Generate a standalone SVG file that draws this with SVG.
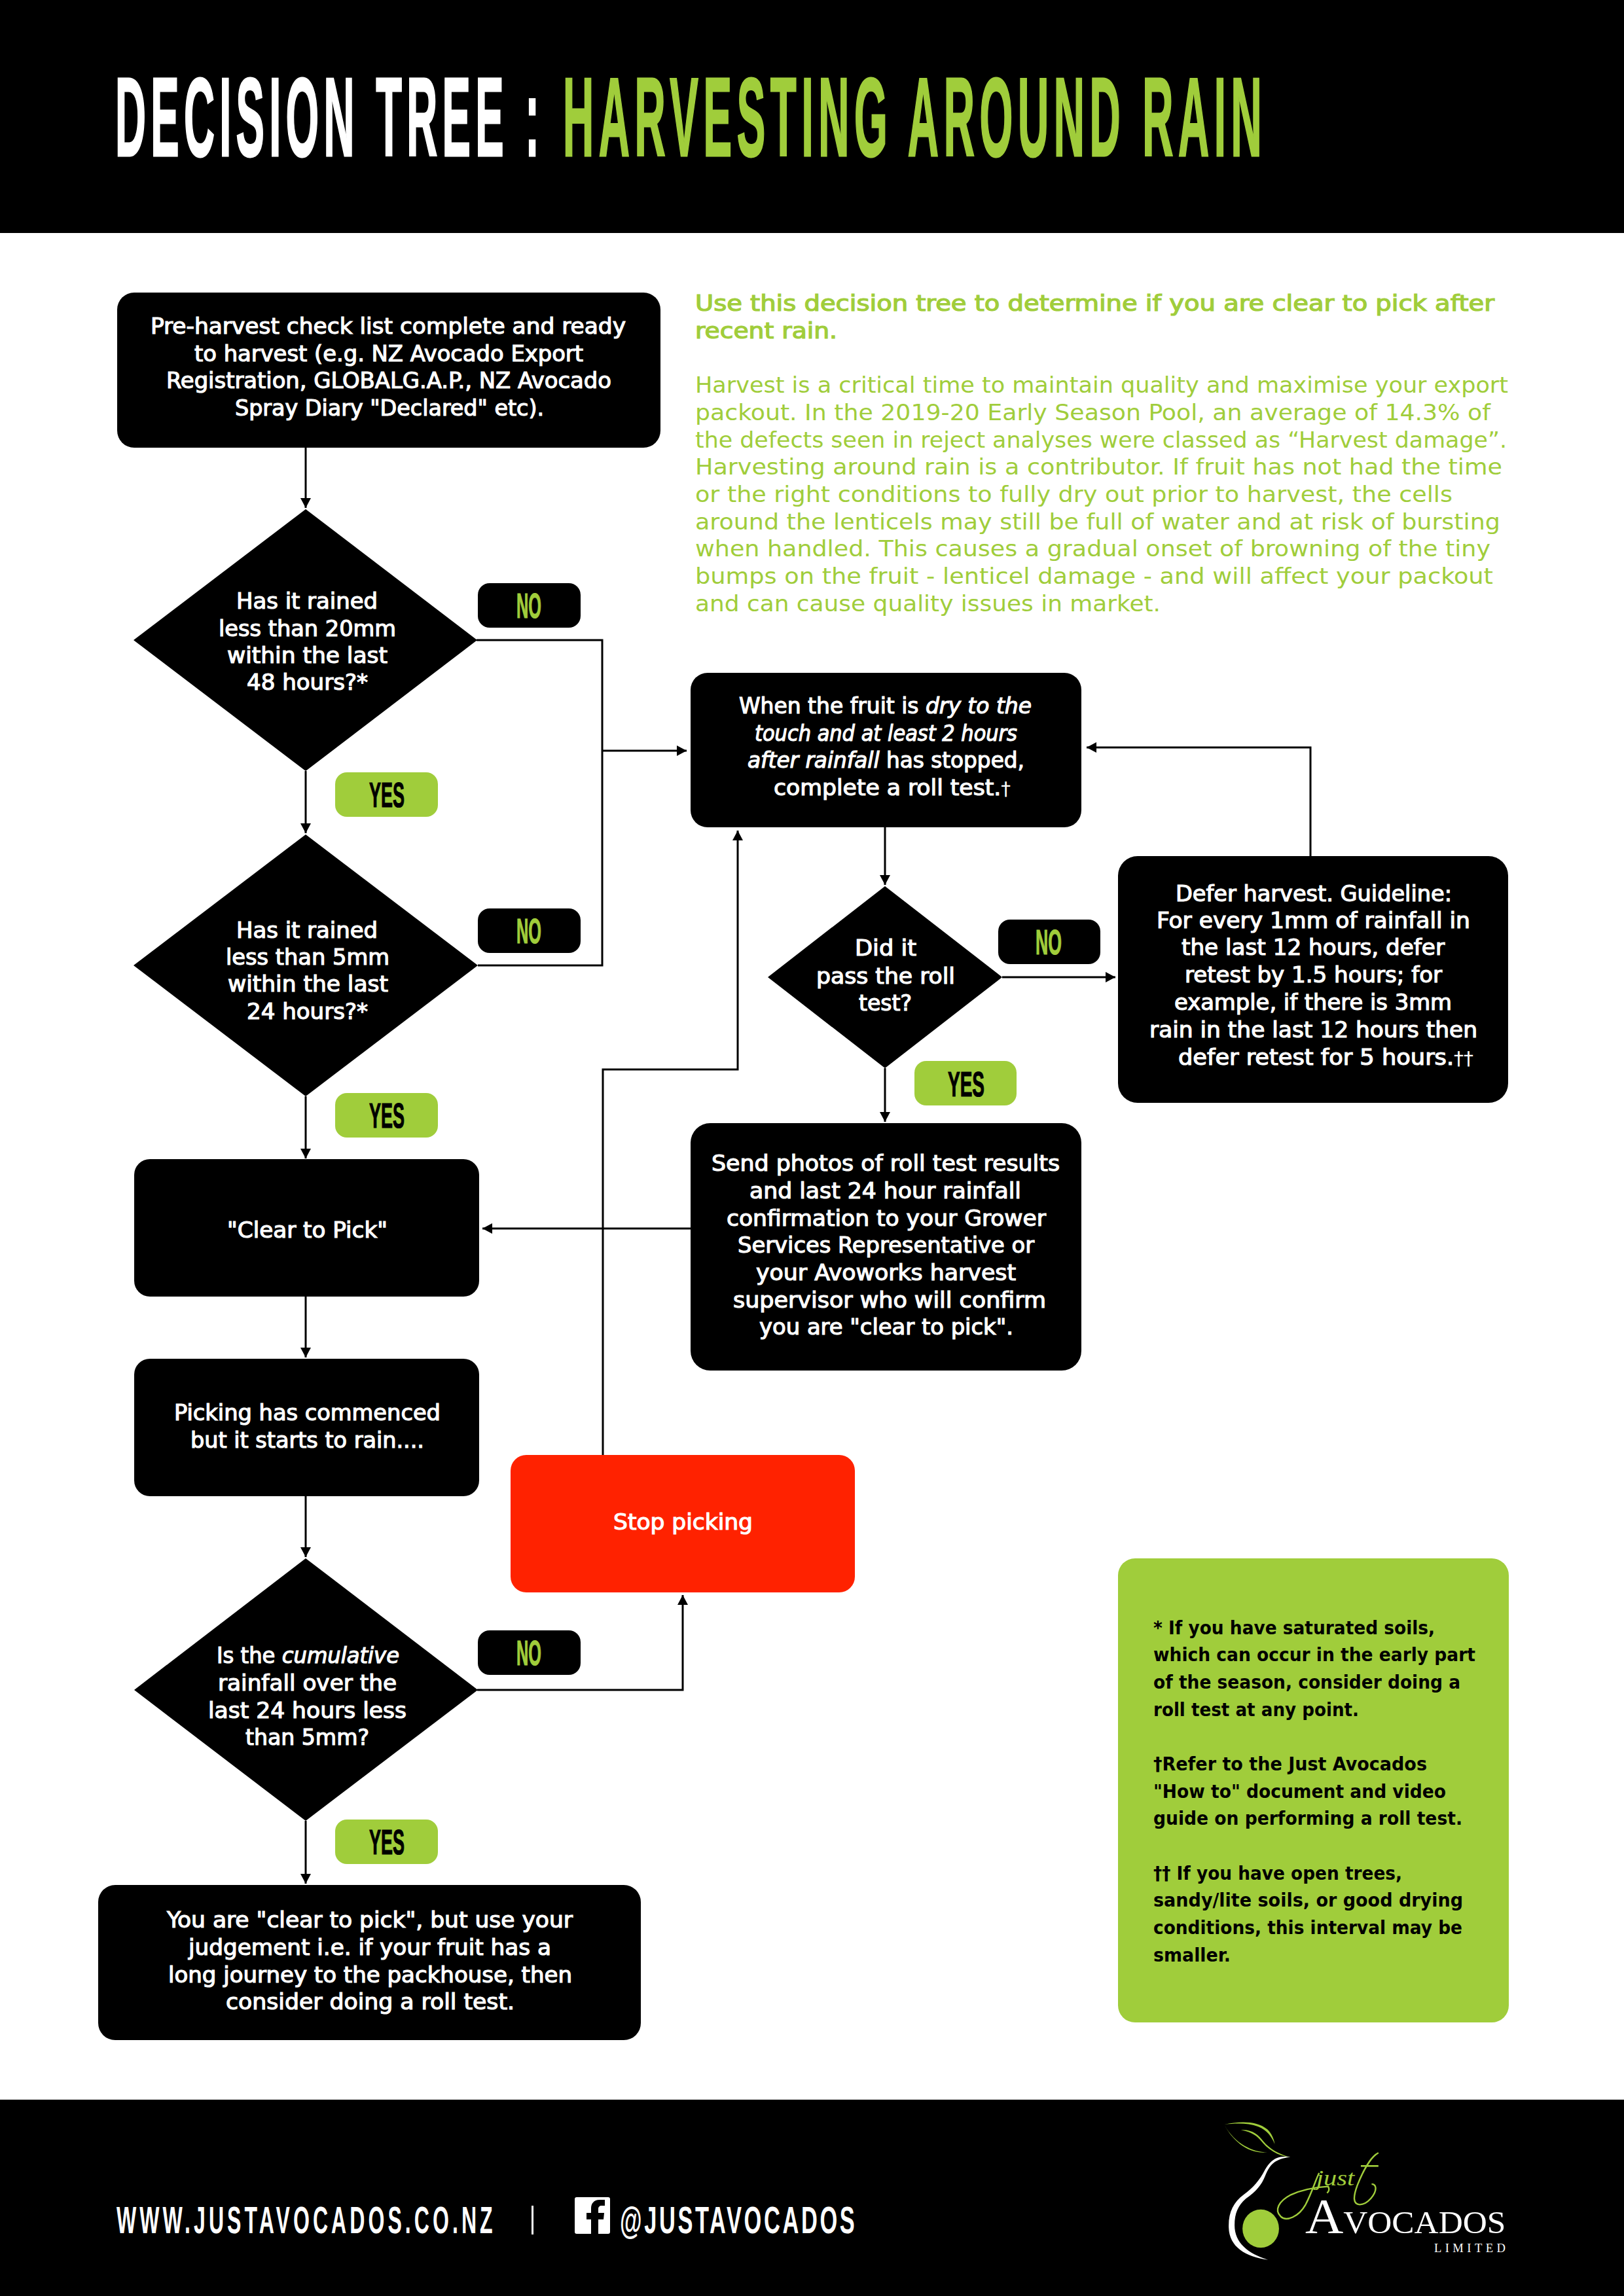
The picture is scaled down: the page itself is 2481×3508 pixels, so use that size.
<svg xmlns="http://www.w3.org/2000/svg" width="2481" height="3508" viewBox="0 0 2481 3508">
<defs>
<marker id="ah" markerUnits="userSpaceOnUse" markerWidth="18" markerHeight="18" refX="15" refY="8" orient="auto"><path d="M0,0 L15,8 L0,16 Z" fill="#000"/></marker>
<style>
.bx{fill:#000}
.gr{fill:#a0cd3b}
.c{fill:none;stroke:#000;stroke-width:3;marker-end:url(#ah)}
.l{fill:none;stroke:#000;stroke-width:3}
.t{font-family:"DejaVu Sans Condensed","DejaVu Sans",sans-serif;font-weight:400;font-size:33px;fill:#fff;stroke:#fff;stroke-width:1.1px}
.i{font-style:italic}
.d{font-size:28px;font-weight:400;stroke:none}
.h{font-family:"DejaVu Sans Condensed","DejaVu Sans",sans-serif;font-weight:400;font-size:34px;fill:#a0cd3b;stroke:#a0cd3b;stroke-width:1.2px}
.p{font-family:"DejaVu Sans Condensed","DejaVu Sans",sans-serif;font-weight:400;font-size:34px;fill:#a0cd3b}
.n{font-family:"DejaVu Sans Condensed","DejaVu Sans",sans-serif;font-weight:700;font-size:29px;fill:#000}
.k{font-family:"Liberation Sans Narrow","Liberation Sans",sans-serif;font-weight:700}
.pw{font-size:53px;fill:#000;stroke:#000;stroke-width:1.2px}
.pg{font-size:53px;fill:#a0cd3b;stroke:#a0cd3b;stroke-width:1.2px}
</style>
</defs>
<rect width="2481" height="3508" fill="#fff"/>
<g id="header">
<rect width="2481" height="356" fill="#000"/>
<text class="k" transform="translate(176,238) scale(.38,1)" x="0" y="0" font-size="170" fill="#fff" stroke="#fff" stroke-width="3" letter-spacing="19" textLength="1724" lengthAdjust="spacingAndGlyphs">DECISION TREE :</text>
<text class="k" transform="translate(860,238) scale(.38,1)" x="0" y="0" font-size="170" fill="#a0cd3b" stroke="#a0cd3b" stroke-width="3" letter-spacing="20" textLength="2830" lengthAdjust="spacingAndGlyphs">HARVESTING AROUND RAIN</text>
</g>
<g id="connectors">
<path class="c" d="M467,684 V776"/>
<path class="c" d="M467,1178 V1273"/>
<path class="c" d="M467,1675 V1770"/>
<path class="c" d="M467,1981 V2074"/>
<path class="c" d="M467,2286 V2379"/>
<path class="c" d="M467,2782 V2878"/>
<path class="l" d="M728,978 H920 V1475 H730"/>
<path class="c" d="M920,1147 H1049"/>
<path class="c" d="M729,2582 H1043 V2437"/>
<path class="c" d="M921,2223 V1634 H1127 V1269"/>
<path class="c" d="M1352,1264 V1352"/>
<path class="c" d="M1352,1632 V1714"/>
<path class="c" d="M1531,1493 H1704"/>
<path class="c" d="M2002,1308 V1142 H1660"/>
<path class="c" d="M1055,1877 H737"/>
</g>
<g id="intro">
<text class="h" x="1062" y="475" textLength="1221" lengthAdjust="spacingAndGlyphs">Use this decision tree to determine if you are clear to pick after</text>
<text class="h" x="1062" y="517" textLength="217" lengthAdjust="spacingAndGlyphs">recent rain.</text>
<text class="p" x="1062" y="600" textLength="1242" lengthAdjust="spacingAndGlyphs">Harvest is a critical time to maintain quality and maximise your export</text>
<text class="p" x="1062" y="642" textLength="1215" lengthAdjust="spacingAndGlyphs">packout. In the 2019-20 Early Season Pool, an average of 14.3% of</text>
<text class="p" x="1062" y="684" textLength="1240" lengthAdjust="spacingAndGlyphs">the defects seen in reject analyses were classed as “Harvest damage”.</text>
<text class="p" x="1062" y="725" textLength="1233" lengthAdjust="spacingAndGlyphs">Harvesting around rain is a contributor. If fruit has not had the time</text>
<text class="p" x="1062" y="767" textLength="1157" lengthAdjust="spacingAndGlyphs">or the right conditions to fully dry out prior to harvest, the cells</text>
<text class="p" x="1062" y="809" textLength="1230" lengthAdjust="spacingAndGlyphs">around the lenticels may still be full of water and at risk of bursting</text>
<text class="p" x="1062" y="850" textLength="1215" lengthAdjust="spacingAndGlyphs">when handled. This causes a gradual onset of browning of the tiny</text>
<text class="p" x="1062" y="892" textLength="1219" lengthAdjust="spacingAndGlyphs">bumps on the fruit - lenticel damage - and will affect your packout</text>
<text class="p" x="1062" y="934" textLength="711" lengthAdjust="spacingAndGlyphs">and can cause quality issues in market.</text>
</g>
<g id="n-preharvest">
<rect class="bx" x="179" y="447" width="830" height="237" rx="26"/>
<text class="t" x="230" y="510" textLength="726" lengthAdjust="spacingAndGlyphs">Pre-harvest check list complete and ready</text>
<text class="t" x="297" y="552" textLength="594" lengthAdjust="spacingAndGlyphs">to harvest (e.g. NZ Avocado Export</text>
<text class="t" x="254" y="593" textLength="680" lengthAdjust="spacingAndGlyphs">Registration, GLOBALG.A.P., NZ Avocado</text>
<text class="t" x="359" y="635" textLength="472" lengthAdjust="spacingAndGlyphs">Spray Diary "Declared" etc).</text>
</g>
<g id="n-rain20">
<polygon class="bx" points="467,778 729,978 467,1178 204,978"/>
<text class="t" x="361" y="930" textLength="216" lengthAdjust="spacingAndGlyphs">Has it rained</text>
<text class="t" x="334" y="972" textLength="271" lengthAdjust="spacingAndGlyphs">less than 20mm</text>
<text class="t" x="347" y="1013" textLength="245" lengthAdjust="spacingAndGlyphs">within the last</text>
<text class="t" x="377" y="1054" textLength="185" lengthAdjust="spacingAndGlyphs">48 hours?*</text>
</g>
<g id="n-no1"><rect class="bx" x="730" y="891" width="157" height="68" rx="18"/><text class="k pg" x="789" y="944" textLength="38" lengthAdjust="spacingAndGlyphs">NO</text></g>
<g id="n-yes1"><rect class="gr" x="512" y="1180" width="157" height="68" rx="18"/><text class="k pw" x="564" y="1233" textLength="54" lengthAdjust="spacingAndGlyphs">YES</text></g>
<g id="n-rain5">
<polygon class="bx" points="467,1275 730,1475 467,1675 204,1475"/>
<text class="t" x="361" y="1433" textLength="216" lengthAdjust="spacingAndGlyphs">Has it rained</text>
<text class="t" x="345" y="1474" textLength="250" lengthAdjust="spacingAndGlyphs">less than 5mm</text>
<text class="t" x="348" y="1515" textLength="245" lengthAdjust="spacingAndGlyphs">within the last</text>
<text class="t" x="377" y="1557" textLength="185" lengthAdjust="spacingAndGlyphs">24 hours?*</text>
</g>
<g id="n-no2"><rect class="bx" x="730" y="1388" width="157" height="68" rx="18"/><text class="k pg" x="789" y="1441" textLength="38" lengthAdjust="spacingAndGlyphs">NO</text></g>
<g id="n-yes2"><rect class="gr" x="512" y="1670" width="157" height="68" rx="18"/><text class="k pw" x="564" y="1723" textLength="54" lengthAdjust="spacingAndGlyphs">YES</text></g>
<g id="n-clear">
<rect class="bx" x="205" y="1771" width="527" height="210" rx="24"/>
<text class="t" x="347" y="1891" textLength="245" lengthAdjust="spacingAndGlyphs">"Clear to Pick"</text>
</g>
<g id="n-picking">
<rect class="bx" x="205" y="2076" width="527" height="210" rx="24"/>
<text class="t" x="266" y="2170" textLength="407" lengthAdjust="spacingAndGlyphs">Picking has commenced</text>
<text class="t" x="291" y="2212" textLength="357" lengthAdjust="spacingAndGlyphs">but it starts to rain....</text>
</g>
<g id="n-stop">
<rect x="780" y="2223" width="526" height="210" rx="24" fill="#ff2200"/>
<text class="t" x="937" y="2337" textLength="213" lengthAdjust="spacingAndGlyphs">Stop picking</text>
</g>
<g id="n-cumulative">
<polygon class="bx" points="467,2381 730,2582 467,2782 205,2582"/>
<text class="t" x="331" y="2541" textLength="279" lengthAdjust="spacingAndGlyphs">Is the <tspan class="i">cumulative</tspan></text>
<text class="t" x="333" y="2583" textLength="273" lengthAdjust="spacingAndGlyphs">rainfall over the</text>
<text class="t" x="318" y="2625" textLength="303" lengthAdjust="spacingAndGlyphs">last 24 hours less</text>
<text class="t" x="375" y="2666" textLength="189" lengthAdjust="spacingAndGlyphs">than 5mm?</text>
</g>
<g id="n-no3"><rect class="bx" x="730" y="2491" width="157" height="68" rx="18"/><text class="k pg" x="789" y="2544" textLength="38" lengthAdjust="spacingAndGlyphs">NO</text></g>
<g id="n-yes3"><rect class="gr" x="512" y="2780" width="157" height="68" rx="18"/><text class="k pw" x="564" y="2833" textLength="54" lengthAdjust="spacingAndGlyphs">YES</text></g>
<g id="n-final">
<rect class="bx" x="150" y="2880" width="829" height="237" rx="26"/>
<text class="t" x="255" y="2945" textLength="620" lengthAdjust="spacingAndGlyphs">You are "clear to pick", but use your</text>
<text class="t" x="288" y="2987" textLength="554" lengthAdjust="spacingAndGlyphs">judgement i.e. if your fruit has a</text>
<text class="t" x="257" y="3029" textLength="617" lengthAdjust="spacingAndGlyphs">long journey to the packhouse, then</text>
<text class="t" x="345" y="3070" textLength="441" lengthAdjust="spacingAndGlyphs">consider doing a roll test.</text>
</g>
<g id="n-when">
<rect class="bx" x="1055" y="1028" width="597" height="236" rx="26"/>
<text class="t" x="1129" y="1090" textLength="447" lengthAdjust="spacingAndGlyphs">When the fruit is <tspan class="i">dry to the</tspan></text>
<text class="t i" x="1153" y="1132" textLength="401" lengthAdjust="spacingAndGlyphs">touch and at least 2 hours</text>
<text class="t" x="1142" y="1173" textLength="423" lengthAdjust="spacingAndGlyphs"><tspan class="i">after rainfall</tspan> has stopped,</text>
<text class="t" x="1182" y="1215" textLength="362" lengthAdjust="spacingAndGlyphs">complete a roll test.<tspan class="d">†</tspan></text>
</g>
<g id="n-pass">
<polygon class="bx" points="1352,1354 1531,1493 1352,1632 1173,1493"/>
<text class="t" x="1306" y="1460" textLength="94" lengthAdjust="spacingAndGlyphs">Did it</text>
<text class="t" x="1247" y="1503" textLength="212" lengthAdjust="spacingAndGlyphs">pass the roll</text>
<text class="t" x="1312" y="1544" textLength="81" lengthAdjust="spacingAndGlyphs">test?</text>
</g>
<g id="n-no4"><rect class="bx" x="1525" y="1405" width="156" height="68" rx="18"/><text class="k pg" x="1582" y="1458" textLength="40" lengthAdjust="spacingAndGlyphs">NO</text></g>
<g id="n-yes4"><rect class="gr" x="1397" y="1621" width="156" height="68" rx="18"/><text class="k pw" x="1448" y="1675" textLength="56" lengthAdjust="spacingAndGlyphs">YES</text></g>
<g id="n-defer">
<rect class="bx" x="1708" y="1308" width="596" height="377" rx="30"/>
<text class="t" x="1796" y="1377" textLength="422" lengthAdjust="spacingAndGlyphs">Defer harvest. Guideline:</text>
<text class="t" x="1767" y="1418" textLength="479" lengthAdjust="spacingAndGlyphs">For every 1mm of rainfall in</text>
<text class="t" x="1805" y="1459" textLength="402" lengthAdjust="spacingAndGlyphs">the last 12 hours, defer</text>
<text class="t" x="1810" y="1501" textLength="393" lengthAdjust="spacingAndGlyphs">retest by 1.5 hours; for</text>
<text class="t" x="1794" y="1543" textLength="424" lengthAdjust="spacingAndGlyphs">example, if there is 3mm</text>
<text class="t" x="1756" y="1585" textLength="501" lengthAdjust="spacingAndGlyphs">rain in the last 12 hours then</text>
<text class="t" x="1800" y="1627" textLength="451" lengthAdjust="spacingAndGlyphs">defer retest for 5 hours.<tspan class="d">††</tspan></text>
</g>
<g id="n-send">
<rect class="bx" x="1055" y="1716" width="597" height="378" rx="30"/>
<text class="t" x="1087" y="1789" textLength="532" lengthAdjust="spacingAndGlyphs">Send photos of roll test results</text>
<text class="t" x="1145" y="1831" textLength="415" lengthAdjust="spacingAndGlyphs">and last 24 hour rainfall</text>
<text class="t" x="1110" y="1873" textLength="488" lengthAdjust="spacingAndGlyphs">confirmation to your Grower</text>
<text class="t" x="1127" y="1914" textLength="453" lengthAdjust="spacingAndGlyphs">Services Representative or</text>
<text class="t" x="1155" y="1956" textLength="397" lengthAdjust="spacingAndGlyphs">your Avoworks harvest</text>
<text class="t" x="1120" y="1998" textLength="478" lengthAdjust="spacingAndGlyphs">supervisor who will confirm</text>
<text class="t" x="1160" y="2039" textLength="388" lengthAdjust="spacingAndGlyphs">you are "clear to pick".</text>
</g>
<g id="n-notes">
<rect class="gr" x="1708" y="2381" width="597" height="709" rx="26"/>
<text class="n" x="1762" y="2497" textLength="430" lengthAdjust="spacingAndGlyphs">* If you have saturated soils,</text>
<text class="n" x="1762" y="2538" textLength="492" lengthAdjust="spacingAndGlyphs">which can occur in the early part</text>
<text class="n" x="1762" y="2580" textLength="469" lengthAdjust="spacingAndGlyphs">of the season, consider doing a</text>
<text class="n" x="1762" y="2622" textLength="314" lengthAdjust="spacingAndGlyphs">roll test at any point.</text>
<text class="n" x="1762" y="2705" textLength="418" lengthAdjust="spacingAndGlyphs">†Refer to the Just Avocados</text>
<text class="n" x="1762" y="2747" textLength="447" lengthAdjust="spacingAndGlyphs">"How to" document and video</text>
<text class="n" x="1762" y="2788" textLength="472" lengthAdjust="spacingAndGlyphs">guide on performing a roll test.</text>
<text class="n" x="1762" y="2872" textLength="380" lengthAdjust="spacingAndGlyphs">†† If you have open trees,</text>
<text class="n" x="1762" y="2913" textLength="473" lengthAdjust="spacingAndGlyphs">sandy/lite soils, or good drying</text>
<text class="n" x="1762" y="2955" textLength="472" lengthAdjust="spacingAndGlyphs">conditions, this interval may be</text>
<text class="n" x="1762" y="2997" textLength="118" lengthAdjust="spacingAndGlyphs">smaller.</text>
</g>
<g id="footer">
<rect y="3208" width="2481" height="300" fill="#000"/>
<text class="k" transform="translate(178,3412) scale(.55,1)" x="0" y="0" font-size="57" fill="#fff" letter-spacing="9" textLength="1054" lengthAdjust="spacingAndGlyphs">WWW.JUSTAVOCADOS.CO.NZ</text>
<rect x="812" y="3370" width="3" height="44" fill="#fff"/>
<rect x="878" y="3357" width="54" height="56" rx="3" fill="#fff"/>
<path d="M914,3413 V3391 H922 L923,3381 H914 V3375 C914,3372 916,3370 919,3370 H924 V3361 H916 C907,3361 903,3367 903,3374 V3381 H896 V3391 H903 V3413 Z" fill="#000"/>
<text class="k" transform="translate(947,3412) scale(.6,1)" x="0" y="0" font-size="57" fill="#fff" letter-spacing="6" textLength="604" lengthAdjust="spacingAndGlyphs">@JUSTAVOCADOS</text>
</g>
<g id="logo" transform="translate(1800,3220) scale(.3444,.3333)">
<path d="M205,78 C270,62 350,60 395,100 C415,120 425,145 428,168 C415,135 395,105 355,88 C310,70 255,72 205,78 Z" fill="#a0cd3b"/>
<path d="M205,80 C240,150 310,215 395,205 C330,205 250,165 205,80 Z" fill="#a0cd3b"/>
<path d="M278,103 C330,100 355,125 378,155 C405,190 450,215 497,228 C440,222 395,190 365,150 C340,120 310,110 278,103 Z" fill="#a0cd3b"/>
<path d="M497,227 C440,218 410,240 385,285 C360,335 335,365 290,400 C245,435 222,480 224,550 C226,640 300,685 398,698 C310,670 250,620 250,540 C250,485 265,450 300,418 C345,385 370,355 385,315 C405,265 425,235 497,227 Z" fill="#fff"/>
<ellipse cx="366" cy="555" rx="81" ry="88" fill="#a0cd3b"/>
<path d="M625,300 C610,330 595,385 565,445 C535,500 480,525 455,500 C425,470 445,430 500,400 C560,372 620,365 665,362 C672,375 668,385 660,392" fill="none" stroke="#a0cd3b" stroke-width="7"/>
<path d="M888,208 C855,225 820,290 795,355 C775,410 775,445 805,445 C840,445 880,395 875,365 C873,355 865,350 858,352" fill="none" stroke="#a0cd3b" stroke-width="7"/>
<path d="M810,268 H888" fill="none" stroke="#a0cd3b" stroke-width="8"/>
<text x="612" y="356" font-family="Liberation Serif,serif" font-style="italic" font-size="100" fill="#a0cd3b" textLength="170" lengthAdjust="spacingAndGlyphs">just</text>
<text x="563" y="575" font-family="Liberation Serif,serif" font-size="145" fill="#fff" textLength="890" lengthAdjust="spacingAndGlyphs"><tspan font-size="228">A</tspan>VOCADOS</text>
<text x="1135" y="662" font-family="Liberation Serif,serif" font-size="54" fill="#fff" textLength="317" lengthAdjust="spacing">LIMITED</text>
</g>
</svg>
